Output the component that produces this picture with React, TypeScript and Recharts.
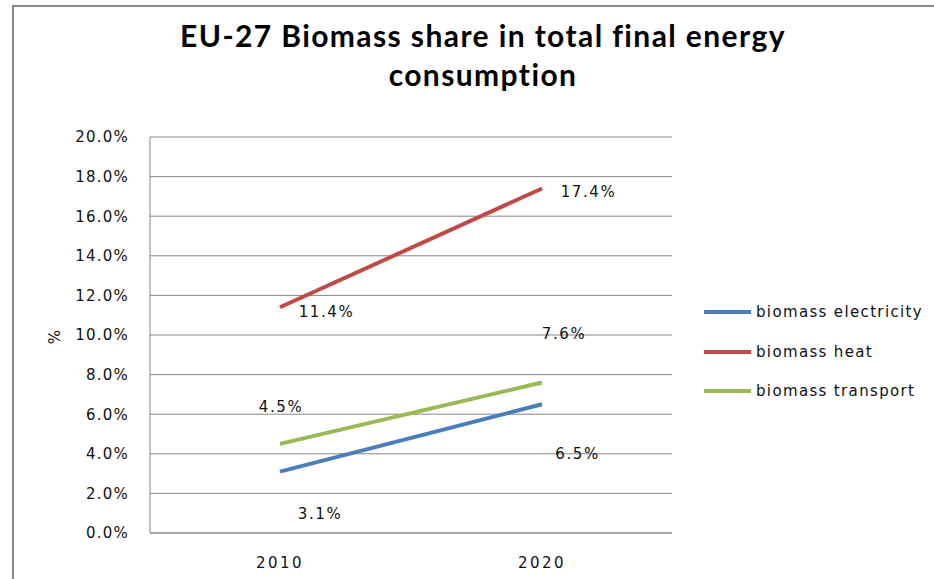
import React from 'react';
import { LineChart, Line, XAxis, YAxis, CartesianGrid, LabelList, Label } from 'recharts';

const years = ['2010', '2020'];
const electricity = [3.1, 6.5];
const heat = [11.4, 17.4];
const transport = [4.5, 7.6];
const yTicks = [0, 2, 4, 6, 8, 10, 12, 14, 16, 18, 20];

const seriesNames = ['biomass electricity', 'biomass heat', 'biomass transport'];
const colors = ['#4A7EBB', '#BE4B48', '#98B954'];

const data = years.map((y, i) => ({
  year: y,
  electricity: electricity[i],
  heat: heat[i],
  transport: transport[i],
}));

// manual label offsets (style), per series per point
const labelOffsets: Record<string, [number, number][]> = {
  electricity: [[40, 42], [35.5, 50]],
  heat: [[46.5, 5], [46.5, 3.5]],
  transport: [[1, -37], [22, -49]],
};

const FONT = '"DejaVu Sans", Verdana, sans-serif';

const makeLabel = (key: string) => (props: any) => {
  const { x, y, value, index } = props;
  const [dx, dy] = labelOffsets[key][index];
  return (
    <text
      x={x + dx}
      y={y + dy}
      textAnchor="middle"
      dominantBaseline="central"
      fontFamily={FONT}
      fontSize={15}
      letterSpacing={1.6}
      fill="#111"
    >
      {Number(value).toFixed(1) + '%'}
    </text>
  );
};

const YTitle = (props: any) => {
  const vb = props.viewBox || { x: 0, y: 137, width: 150, height: 396 };
  const cx = vb.x + 55;
  const cy = vb.y + vb.height / 2 + 2;
  return (
    <text
      x={cx}
      y={cy}
      transform={`rotate(-90 ${cx} ${cy})`}
      textAnchor="middle"
      dominantBaseline="central"
      fontFamily={FONT}
      fontSize={15}
      fill="#111"
    >
      %
    </text>
  );
};

export default function App() {
  const keys = ['electricity', 'heat', 'transport'];
  return (
    <div
      style={{
        position: 'absolute',
        left: 0,
        top: 0,
        width: 934,
        height: 579,
        overflow: 'hidden',
        background: '#fff',
      }}
    >
      <div
        style={{
          position: 'absolute',
          left: 12,
          top: 5,
          width: 1000,
          height: 1000,
          borderLeft: '2px solid #888',
          borderTop: '2px solid #888',
        }}
      />
      <div
        style={{
          position: 'absolute',
          left: 0,
          width: 966,
          top: 16,
          textAlign: 'center',
          fontFamily: 'Lato, sans-serif',
          fontWeight: 700,
          fontSize: 30,
          letterSpacing: 1.4,
          lineHeight: '39px',
          color: '#000',
        }}
      >
        EU-27 Biomass share in total final energy
        <br />
        consumption
      </div>
      <div style={{ position: 'absolute', left: 0, top: 0 }}>
        <LineChart
          width={934}
          height={579}
          data={data}
          margin={{ top: 137, right: 262, bottom: 0, left: 0 }}
        >
          <CartesianGrid vertical={false} stroke="#868686" strokeWidth={1} />
          <XAxis
            dataKey="year"
            padding={{ left: 130, right: 130 }}
            tickLine={false}
            tickSize={0}
            tickMargin={24}
            axisLine={{ stroke: '#868686' }}
            height={46}
            tick={{ fontFamily: FONT, fontSize: 15, fill: '#111', letterSpacing: 2.5 }}
          />
          <YAxis
            width={150}
            domain={[0, 20]}
            ticks={yTicks}
            tickFormatter={(v: number) => v.toFixed(1) + '%'}
            tickLine={false}
            tickSize={0}
            tickMargin={21}
            axisLine={{ stroke: '#868686' }}
            tick={{ fontFamily: FONT, fontSize: 15, fill: '#111', letterSpacing: 1.2 }}
          >
            <Label content={YTitle} />
          </YAxis>
          {keys.map((k, i) => (
            <Line
              key={k}
              dataKey={k}
              name={seriesNames[i]}
              stroke={colors[i]}
              strokeWidth={4}
              dot={false}
              activeDot={false}
              isAnimationActive={false}
            >
              <LabelList dataKey={k} content={makeLabel(k)} />
            </Line>
          ))}
        </LineChart>
      </div>
      {seriesNames.map((n, i) => (
        <div
          key={n}
          style={{
            position: 'absolute',
            left: 704,
            top: 300 + i * 39.6,
            height: 24,
            display: 'flex',
            alignItems: 'center',
            fontFamily: FONT,
            fontSize: 15,
            letterSpacing: 1.35,
            color: '#111',
            whiteSpace: 'nowrap',
          }}
        >
          <span
            style={{
              display: 'inline-block',
              width: 47,
              height: 4,
              background: colors[i],
              marginRight: 5,
            }}
          />
          {n}
        </div>
      ))}
    </div>
  );
}
